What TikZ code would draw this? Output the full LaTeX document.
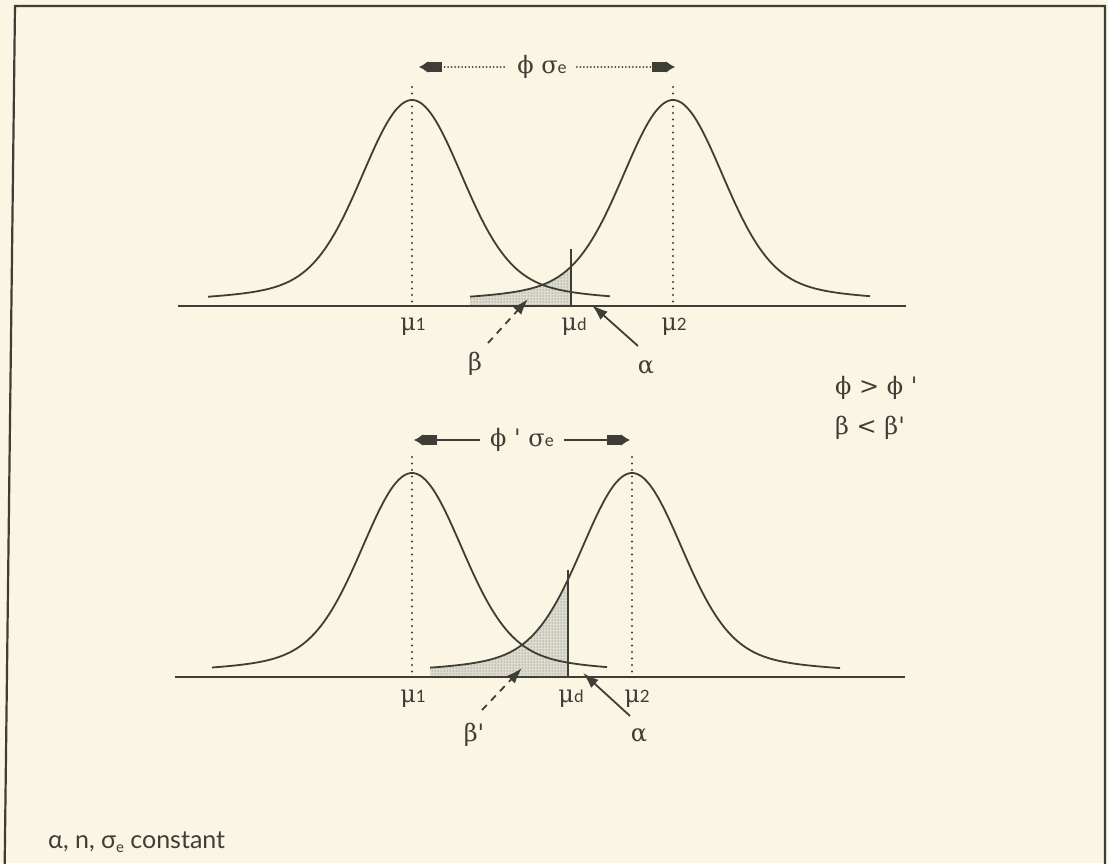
\documentclass[tikz,border=0pt]{standalone}
\usepackage{fontspec}
\setmainfont{DejaVu Serif}
\newfontfamily\sansf{Lato}
\usetikzlibrary{arrows.meta,patterns}
\definecolor{bg}{RGB}{250,246,227}
\definecolor{ink}{RGB}{62,62,54}
\definecolor{shadefill}{RGB}{222,220,207}
\newcommand{\smallsub}[1]{{\sansf\fontsize{17}{17}\selectfont #1}}
\newcommand{\gk}{\fontsize{24}{28}\selectfont}
\begin{document}
\begin{tikzpicture}[x=1pt,y=-1pt,
  declare function={bell(\x,\m,\b,\h)=\b-\h*(0.8*exp(-((\x-\m)/67.88)^2)+0.2/(1+((\x-\m)/110)^2));},
  curve/.style={ink,line width=1.8pt},
  axisline/.style={ink,line width=2.2pt},
  meanline/.style={ink,line width=2.2pt,line cap=round,dash pattern=on 0pt off 6.5pt},
  critline/.style={ink,line width=2pt},
  shadearea/.style={preaction={fill=shadefill},pattern=dots,pattern color=ink!85},
  lbl/.style={inner sep=0pt,font=\gk,text=ink},
  ptr/.style={ink,line width=1.8pt,-{Latex[length=16pt,width=11pt]}},
  dimlabel/.style={inner xsep=10pt,inner ysep=0pt,font=\gk,text=ink},
  dimdotted/.style={ink,line width=1.8pt,line cap=round,dash pattern=on 0pt off 3.5pt},
  dimsolid/.style={ink,line width=1.8pt},
  dimstart/.style={{Latex[length=9pt,width=12pt]Rectangle[length=14pt,width=10pt]}-},
  dimend/.style={-{Rectangle[length=14pt,width=10pt]Latex[length=9pt,width=12pt]}}
]
\fill[bg] (0,0) rectangle (1108,863);
\useasboundingbox (0,0) rectangle (1108,863);
% frame
\coordinate (frBL) at (4.5,880); \coordinate (frTL) at (15,6);
\coordinate (frTR) at (1105,6); \coordinate (frBR) at (1105,880);
\draw[ink,line width=2.2pt] (frBL) -- (frTL) -- (frTR) -- (frBR);

% ---------- top graph ----------
\path[shadearea] (470,306) -- plot[domain=470:571,samples=60] (\x,{bell(\x,673,306,206)}) -- (571,306) -- cycle;
\draw[curve] plot[domain=208:610,samples=160,smooth] (\x,{bell(\x,412,306,206)});
\draw[curve] plot[domain=470:870,samples=160,smooth] (\x,{bell(\x,673,306,206)});
\coordinate (axAl) at (178,306); \coordinate (axAr) at (906,306);
\draw[axisline] (axAl) -- (axAr);
\coordinate (m1Atop) at (412,87); \coordinate (m1Abot) at (412,306);
\coordinate (m2Atop) at (673,87); \coordinate (m2Abot) at (673,306);
\draw[meanline] (m1Atop) -- (m1Abot);
\draw[meanline] (m2Atop) -- (m2Abot);
\coordinate (mdAtop) at (571,249); \coordinate (mdAbot) at (571,306);
\draw[critline] (mdAtop) -- (mdAbot);
\node[lbl,anchor=base] (mu1A) at (413,330) {μ\smallsub{1}};
\node[lbl,anchor=base] (mudA) at (574,330) {μ\smallsub{d}};
\node[lbl,anchor=base] (mu2A) at (674,330) {μ\smallsub{2}};
\node[lbl] (betaA) at (475,364) {β};
\node[lbl] (alphaA) at (646,367) {α};
\coordinate (betaAtail) at (488,343); \coordinate (betaAtip) at (528,299);
\coordinate (alphaAtail) at (638,346); \coordinate (alphaAtip) at (592,305);
\draw[ptr,dash pattern=on 7pt off 6pt] (betaAtail) -- (betaAtip);
\draw[ptr] (alphaAtail) -- (alphaAtip);
% dimension
\node[dimlabel] (phiA) at (542,67) {ϕ σ\smallsub{e}};
\coordinate (dimAl) at (419,67); \coordinate (dimAr) at (675,67);
\draw[dimdotted,dimstart] (dimAl) -- (phiA.west);
\draw[dimdotted,dimend] (phiA.east) -- (dimAr);

% ---------- right comparisons ----------
\node[lbl,anchor=west] (cmp1) at (835,388) {ϕ > ϕ \textquotesingle};
\node[lbl,anchor=west] (cmp2) at (835,428) {β < β\textquotesingle};

% ---------- bottom graph ----------
\path[shadearea] (430,677) -- plot[domain=430:568,samples=60] (\x,{bell(\x,632,677,204)}) -- (568,677) -- cycle;
\draw[curve] plot[domain=212:607,samples=160,smooth] (\x,{bell(\x,412,677,204)});
\draw[curve] plot[domain=430:840,samples=160,smooth] (\x,{bell(\x,632,677,204)});
\coordinate (axBl) at (175,677); \coordinate (axBr) at (905,677);
\draw[axisline] (axBl) -- (axBr);
\coordinate (m1Btop) at (412,457); \coordinate (m1Bbot) at (412,677);
\coordinate (m2Btop) at (632,457); \coordinate (m2Bbot) at (632,677);
\draw[meanline] (m1Btop) -- (m1Bbot);
\draw[meanline] (m2Btop) -- (m2Bbot);
\coordinate (mdBtop) at (568,570); \coordinate (mdBbot) at (568,677);
\draw[critline] (mdBtop) -- (mdBbot);
\node[lbl,anchor=base] (mu1B) at (413,702) {μ\smallsub{1}};
\node[lbl,anchor=base] (mudB) at (571,702) {μ\smallsub{d}};
\node[lbl,anchor=base] (mu2B) at (637,702) {μ\smallsub{2}};
\node[lbl] (betaB) at (474,735) {β\textquotesingle};
\node[lbl] (alphaB) at (639,735) {α};
\coordinate (betaBtail) at (482,710); \coordinate (betaBtip) at (522,668);
\coordinate (alphaBtail) at (630,716); \coordinate (alphaBtip) at (583,673);
\draw[ptr,dash pattern=on 7pt off 6pt] (betaBtail) -- (betaBtip);
\draw[ptr] (alphaBtail) -- (alphaBtip);
\node[dimlabel] (phiB) at (522,440) {ϕ \textquotesingle\ σ\smallsub{e}};
\coordinate (dimBl) at (414,440); \coordinate (dimBr) at (630,440);
\draw[dimsolid,dimstart] (dimBl) -- (phiB.west);
\draw[dimsolid,dimend] (phiB.east) -- (dimBr);

% ---------- footnote ----------
\node[anchor=base west,inner sep=0pt,text=ink,font=\sansf\fontsize{25}{29}\selectfont] (note) at (48,848) {α, n, σ\raisebox{-4pt}{\fontsize{15}{15}\selectfont e} constant};
\end{tikzpicture}
\end{document}
